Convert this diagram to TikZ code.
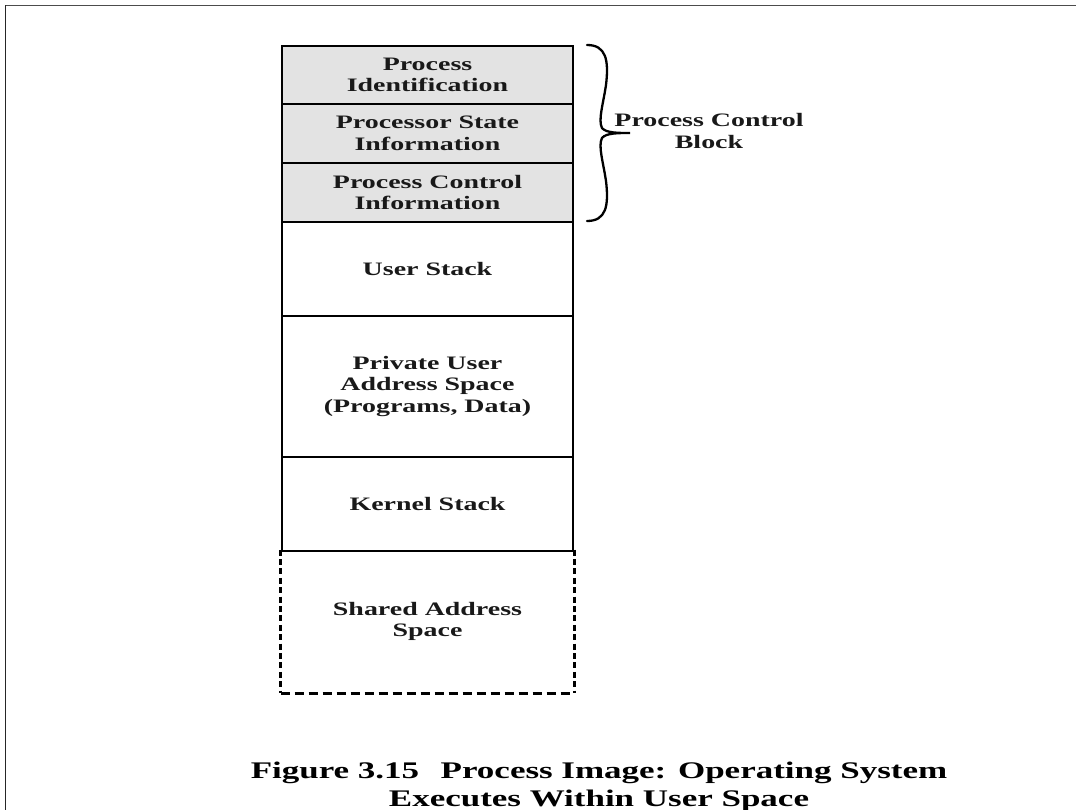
\documentclass[tikz,border=0pt]{standalone}
\usepackage{fontspec}
\newfontfamily\figfont{Liberation Serif}[FakeStretch=1.47]
\begin{document}
\begin{tikzpicture}[x=1pt,y=-1pt,
  seg/.style={draw=black, line width=2.8pt, minimum width=291pt, inner sep=0pt,
    align=center, text=black!90, font=\figfont\bfseries\fontsize{19}{21.7}\selectfont},
  pcb/.style={seg, fill=black!11},
  vdash/.style={line width=2.8pt, dash pattern=on 6pt off 3.4pt},
  hdash/.style={line width=2.8pt, dash pattern=on 9pt off 5pt}
]
\useasboundingbox (0,0) rectangle (1076,810);
% page frame
\draw[black!70, line width=1pt] (5.5,5.3) -- (1076,5.3);
\draw[black!85, line width=1.3pt] (5.5,810) -- (5.5,5.3);

% process image segments, top to bottom
\node[pcb, minimum height=58pt] (pid)    at (427.5,75)    {Process\\Identification};
\node[pcb, minimum height=59pt] (pstate) at (427.5,133.5) {Processor State\\Information};
\node[pcb, minimum height=59pt] (pctl)   at (427.5,192.5) {Process Control\\Information};
\node[seg, minimum height=94pt] (ustack) at (427.5,269)   {User Stack};
\node[seg, minimum height=141pt] (priv)  at (427.5,386.5) {Private User\\Address Space\\(Programs, Data)};
\node[seg, minimum height=94pt] (kstack) at (427.5,504)   {Kernel Stack};
\node[seg, draw=none, minimum height=141pt] (shared) at (427.5,621.5) {Shared Address\\Space};

% shared region outlined with dashes
\draw[vdash] (shared.north west) -- (shared.south west);
\draw[vdash] (shared.north east) -- (shared.south east);
\draw[hdash, line join=round] (shared.south west) -- (shared.south east);

% curly brace grouping the process control block
\draw[line width=2.3pt, line cap=round]
  (587,45) .. controls (606,45) and (609,60) .. (606,85)
           .. controls (603,105) and (598,120) .. (602,128)
           .. controls (606,133) and (618,133) .. (630,133)
           .. controls (618,133) and (606,133) .. (602,138)
           .. controls (598,146) and (603,161) .. (606,181)
           .. controls (609,206) and (606,221) .. (587,221);
\node[font=\figfont\bfseries\fontsize{19}{21.7}\selectfont, align=center, text=black!90]
  (pcblabel) at (709,131) {Process Control\\Block};

% caption
\node[font=\figfont\bfseries\fontsize{23.8}{28}\selectfont, align=center, text=black]
  (caption) at (599,787) {Figure 3.15\hspace{0.9em}Process Image: Operating System\\Executes Within User Space};
\end{tikzpicture}
\end{document}
